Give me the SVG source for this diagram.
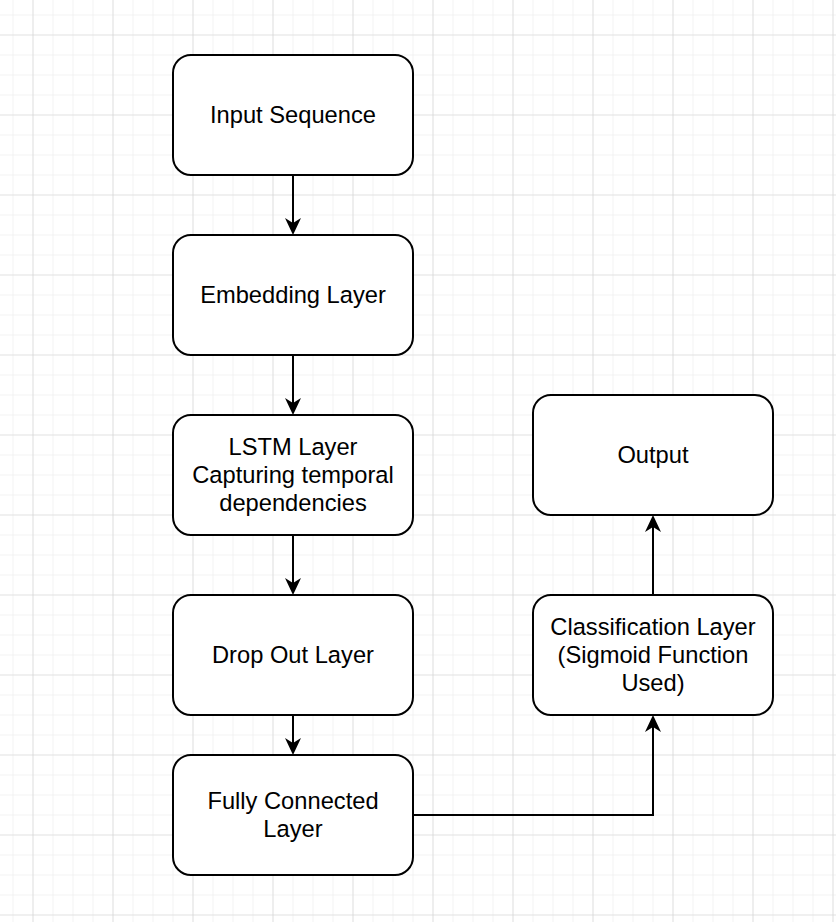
<svg xmlns="http://www.w3.org/2000/svg" width="836" height="922" viewBox="0 0 836 922">
<defs>
<pattern id="minor" x="12.5" y="14.5" width="20" height="20" patternUnits="userSpaceOnUse">
<path d="M0 0 H20 M0 0 V20" fill="none" stroke="#f0f0f0" stroke-width="1.5"/>
</pattern>
<pattern id="major" x="32.5" y="34.5" width="80" height="80" patternUnits="userSpaceOnUse">
<path d="M0 0 H80 M0 0 V80" fill="none" stroke="#d4d4d4" stroke-width="1.2"/>
</pattern>
<marker id="arrow" markerUnits="userSpaceOnUse" viewBox="-9 -18 18 19" refX="0" refY="0" markerWidth="18" markerHeight="19" orient="auto-start-reverse">
<path d="M0 0 L-8 -17 L0 -12 L8 -17 Z" fill="#000" transform="rotate(-90)"/>
</marker>
</defs>
<style>
.box{fill:#fff;stroke:#000;stroke-width:2}
.lbl{font-family:"Liberation Sans",Arial,Helvetica,sans-serif;font-size:23.7px;fill:#000;text-anchor:middle}
.edge{fill:none;stroke:#000;stroke-width:2}
</style>
<rect width="836" height="922" fill="#fff"/>
<rect width="836" height="922" fill="url(#minor)"/>
<rect width="836" height="922" fill="url(#major)"/>
<g id="connectors">
<path class="edge" d="M293 175 V223"/>
<path d="M293 235 L285 218 L293 223 L301 218 Z"/>
<path class="edge" d="M293 355 V403"/>
<path d="M293 415 L285 398 L293 403 L301 398 Z"/>
<path class="edge" d="M293 535 V583"/>
<path d="M293 595 L285 578 L293 583 L301 578 Z"/>
<path class="edge" d="M293 715 V743"/>
<path d="M293 755 L285 738 L293 743 L301 738 Z"/>
<path class="edge" d="M413 815 H653 V727"/>
<path d="M653 715 L645 732 L653 727 L661 732 Z"/>
<path class="edge" d="M653 595 V527"/>
<path d="M653 515 L645 532 L653 527 L661 532 Z"/>
</g>
<g id="input">
<rect class="box" x="173" y="55" width="240" height="120" rx="18"/>
<text class="lbl" x="293" y="123">Input Sequence</text>
</g>
<g id="embedding">
<rect class="box" x="173" y="235" width="240" height="120" rx="18"/>
<text class="lbl" x="293" y="303">Embedding Layer</text>
</g>
<g id="lstm">
<rect class="box" x="173" y="415" width="240" height="120" rx="18"/>
<text class="lbl" x="293" y="454.5">LSTM Layer</text>
<text class="lbl" x="293" y="482.5">Capturing temporal</text>
<text class="lbl" x="293" y="510.5">dependencies</text>
</g>
<g id="dropout">
<rect class="box" x="173" y="595" width="240" height="120" rx="18"/>
<text class="lbl" x="293" y="663">Drop Out Layer</text>
</g>
<g id="fc">
<rect class="box" x="173" y="755" width="240" height="120" rx="18"/>
<text class="lbl" x="293" y="808.5">Fully Connected</text>
<text class="lbl" x="293" y="836.5">Layer</text>
</g>
<g id="classification">
<rect class="box" x="533" y="595" width="240" height="120" rx="18"/>
<text class="lbl" x="653" y="634.5">Classification Layer</text>
<text class="lbl" x="653" y="662.5">(Sigmoid Function</text>
<text class="lbl" x="653" y="690.5">Used)</text>
</g>
<g id="output">
<rect class="box" x="533" y="395" width="240" height="120" rx="18"/>
<text class="lbl" x="653" y="463">Output</text>
</g>
</svg>
